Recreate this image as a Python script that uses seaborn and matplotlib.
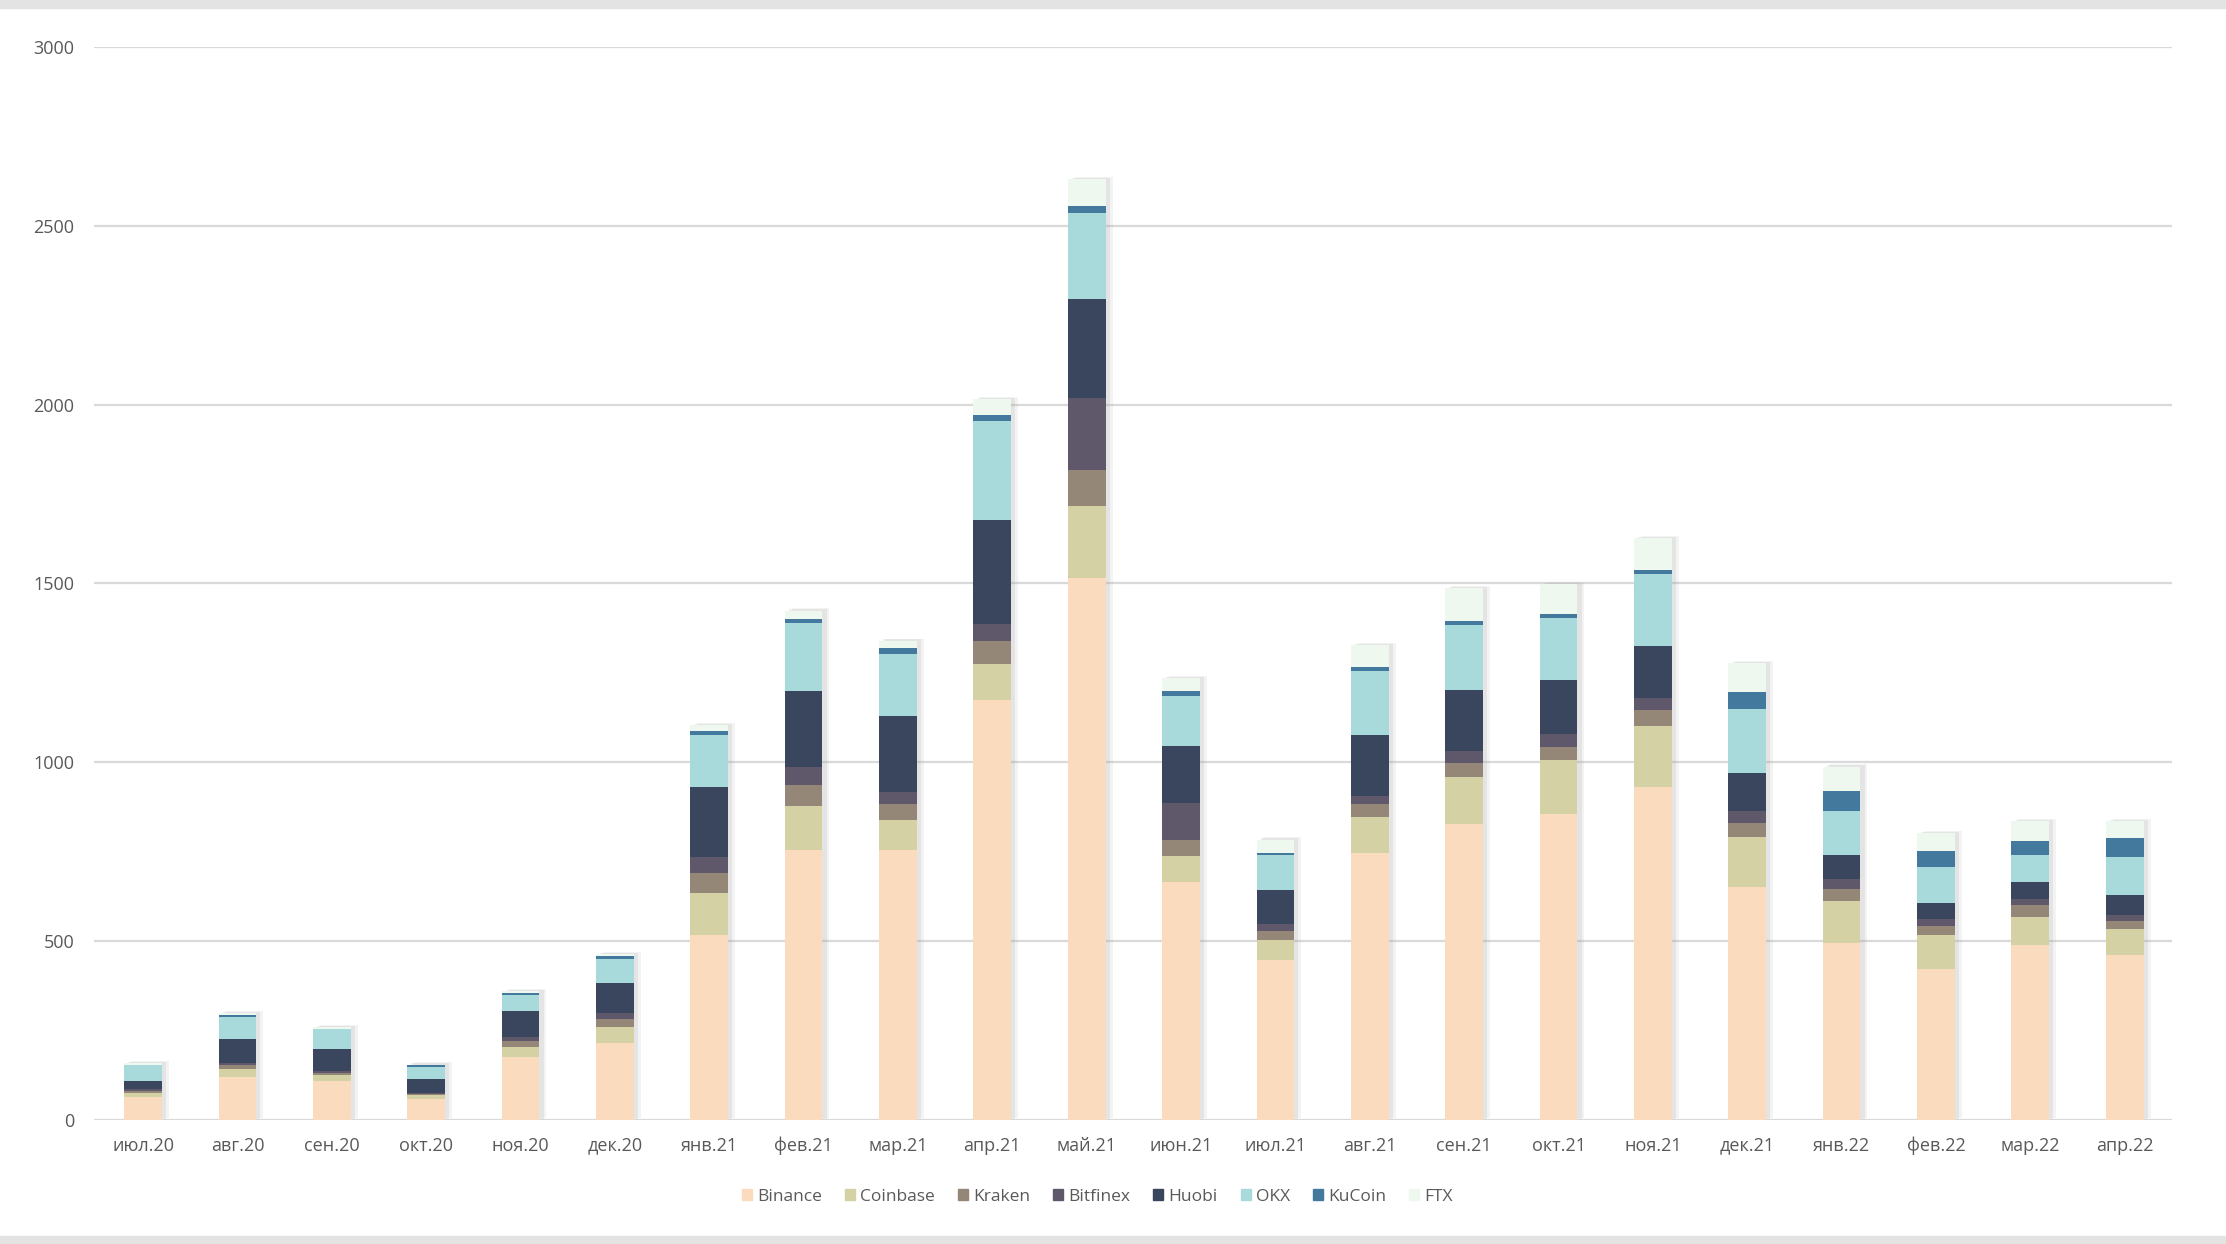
import numpy as np
import pandas as pd
import matplotlib
matplotlib.use('Agg')
import matplotlib.pyplot as plt
import matplotlib.patheffects as pe
from matplotlib.patches import Rectangle
import seaborn as sns

months = ['июл.20', 'авг.20', 'сен.20', 'окт.20', 'ноя.20', 'дек.20',
          'янв.21', 'фев.21', 'мар.21', 'апр.21', 'май.21', 'июн.21',
          'июл.21', 'авг.21', 'сен.21', 'окт.21', 'ноя.21', 'дек.21',
          'янв.22', 'фев.22', 'мар.22', 'апр.22']

binance  = [64, 120, 109, 58, 176, 215, 517, 756, 754, 1174, 1516, 666,
            448, 745, 826, 854, 932, 652, 495, 422, 490, 462]
coinbase = [11, 22, 16, 11, 28, 45, 117, 123, 84, 100, 201, 72,
            56, 101, 133, 151, 168, 140, 118, 95, 78, 73]
kraken   = [6, 12, 6, 4, 17, 23, 56, 56, 46, 66, 101, 45,
            23, 38, 40, 39, 45, 39, 33, 24, 34, 22]
bitfinex = [5, 5, 6, 2, 11, 17, 44, 51, 33, 46, 201, 102,
            21, 23, 33, 34, 34, 33, 28, 22, 16, 16]
huobi    = [23, 68, 62, 39, 73, 84, 196, 213, 212, 290, 275, 160,
            96, 169, 169, 151, 145, 107, 67, 44, 46, 57]
okx      = [45, 61, 56, 34, 45, 67, 147, 191, 174, 279, 241, 140,
            96, 179, 184, 174, 202, 179, 123, 101, 77, 106]
kucoin   = [1, 6, 0, 6, 6, 6, 10, 11, 16, 17, 21, 13,
            6, 11, 11, 10, 10, 45, 57, 45, 40, 51]
ftx      = [5, 4, 5, 1, 5, 6, 16, 23, 21, 44, 75, 38,
            38, 62, 90, 85, 90, 83, 67, 50, 55, 49]

exchanges = ['Binance', 'Coinbase', 'Kraken', 'Bitfinex', 'Huobi', 'OKX', 'KuCoin', 'FTX']
series = [binance, coinbase, kraken, bitfinex, huobi, okx, kucoin, ftx]
colors = ['#FADBBD', '#D4D1A5', '#948778', '#5E586A', '#3A455E', '#A9DADB', '#42799C', '#EEF8EE']

df = pd.DataFrame({'month': months})
for name, vals in zip(exchanges, series):
    df[name] = vals

sns.set_theme(style='white')
plt.rcParams['font.family'] = ['Open Sans', 'DejaVu Sans']

fig = plt.figure(figsize=(22.26, 12.44), dpi=100)
ax = fig.add_axes([0.0422, 0.0997, 0.9335, 0.8627])

# soft shadow behind each column (two layers to fake a blur)
totals = df[exchanges].sum(axis=1)
sns.barplot(data=df, x='month', y=totals, color='white', width=0.4,
            saturation=1, ax=ax, zorder=2, linewidth=0)
for p in ax.patches:
    p.set_path_effects([pe.SimplePatchShadow(offset=(5, 1.5), shadow_rgbFace='#b0b0b0', alpha=0.15),
                        pe.SimplePatchShadow(offset=(3, 0.8), shadow_rgbFace='#a8a8a8', alpha=0.2),
                        pe.Normal()])

bottom = np.zeros(len(months))
for name, col in zip(exchanges, colors):
    sns.barplot(data=df, x='month', y=name, color=col, width=0.4, saturation=1,
                bottom=bottom, ax=ax, zorder=3, linewidth=0)
    bottom = bottom + df[name].values

if ax.get_legend() is not None:
    ax.get_legend().remove()

ax.set_ylim(0, 3000)
ax.set_yticks(range(0, 3001, 500))
ax.set_xlim(-0.52, len(months) - 0.5)
ax.yaxis.grid(True, color='#D9D9D9', linewidth=1.6)
ax.set_axisbelow(True)
for s in ax.spines.values():
    s.set_visible(False)
ax.set_xlabel('')
ax.set_ylabel('')
ax.tick_params(axis='both', length=0, labelsize=13, colors='#595959')
ax.tick_params(axis='x', pad=12)
ax.tick_params(axis='y', pad=14)

handles = [Rectangle((0, 0), 1, 1, color=c) for c in colors]
fig.legend(handles, exchanges, loc='center', bbox_to_anchor=(0.493, 0.038), ncol=8,
           frameon=False, fontsize=12.5, handlelength=0.6, handleheight=0.6,
           handletextpad=0.3, columnspacing=1.3, labelcolor='#595959')

# thin grey bands at top and bottom of the picture
fig.patches.append(Rectangle((0, 0.9935), 1, 0.0065, transform=fig.transFigure,
                             color='#E3E3E3', zorder=0))
fig.patches.append(Rectangle((0, 0), 1, 0.0065, transform=fig.transFigure,
                             color='#E3E3E3', zorder=0))

fig.savefig('out.png', dpi=100)
